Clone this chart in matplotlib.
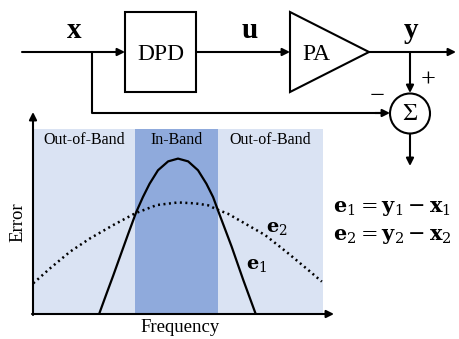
#!/usr/bin/env python3
'''
DPD block diagram with the in-band / out-of-band error sketch below it.
Saves out.png (459x339 px).
'''

import matplotlib
matplotlib.use('Agg')
from matplotlib import pyplot as plt
from matplotlib.patches import Rectangle, Polygon, Circle

plt.rcParams['font.family'] = ['Liberation Serif', 'DejaVu Serif']
plt.rcParams['mathtext.fontset'] = 'stix'

# band edges on the frequency axis (0..10)
BANDS = [0.0, 3.52, 6.38, 10.0]
BAND_LABELS = ['Out-of-Band', 'In-Band', 'Out-of-Band']
BAND_COLORS = ['#dae3f3', '#8faadc', '#dae3f3']

# e1: solid curve
E1_FREQ = [2.28, 2.54, 2.76, 3.00, 3.28, 3.56, 3.79, 4.02, 4.31, 4.66,
           5.00, 5.35, 5.69, 5.98, 6.21, 6.40, 6.85, 7.25, 7.68]
E1_ERR = [0.0, 1.12, 2.05, 3.10, 4.32, 5.51, 6.32, 7.04, 7.77, 8.25,
          8.40, 8.25, 7.77, 7.04, 6.32, 5.51, 3.64, 1.84, 0.0]

# e2: dotted curve
E2_FREQ = [0.01, 0.59, 1.28, 1.97, 2.77, 3.52, 4.27, 5.00, 5.59, 6.03,
           6.39, 6.72, 7.20, 8.00, 8.80, 9.49, 9.96]
E2_ERR = [1.66, 2.47, 3.37, 4.09, 4.81, 5.44, 5.89, 6.03, 5.98, 5.88,
          5.62, 5.42, 4.99, 4.27, 3.28, 2.38, 1.75]

LW = 1.5
ARROW = dict(arrowstyle='-|>', mutation_scale=11, lw=LW, color='black',
             shrinkA=0, shrinkB=0)


def arrow(ax, x0, y0, x1, y1):
    ax.annotate('', xy=(x1, y1), xytext=(x0, y0), arrowprops=ARROW)


def line(ax, xs, ys):
    ax.plot(xs, ys, color='black', lw=LW, solid_capstyle='butt')


fig = plt.figure(figsize=(4.59, 3.39), dpi=100)

# ---- error sketch ----
W, H = 459.0, 339.0
ax = fig.add_axes([33 / W, (H - 314) / H, 290 / W, 185 / H])
ax.set_xlim(0, 10)
ax.set_ylim(0, 10)
ax.axis('off')
for i, label in enumerate(BAND_LABELS):
    ax.add_patch(Rectangle((BANDS[i], 0), BANDS[i + 1] - BANDS[i], 10,
                           color=BAND_COLORS[i], lw=0))
    ax.text((BANDS[i] + BANDS[i + 1]) / 2, 9.4, label, ha='center',
            va='center', fontsize=11.5)
ax.plot(E1_FREQ, E1_ERR, color='black', lw=1.6)
ax.plot(E2_FREQ, E2_ERR, color='black', lw=1.8, linestyle=(0, (0.8, 1.4)))
ax.text(8.4, 4.6, r'$\mathbf{e}_2$', fontsize=14, ha='center', va='center',
        math_fontfamily='dejavuserif')
ax.text(7.7, 2.6, r'$\mathbf{e}_1$', fontsize=14, ha='center', va='center',
        math_fontfamily='dejavuserif')

# ---- block diagram (pixel coordinates) ----
d = fig.add_axes([0, 0, 1, 1])
d.set_xlim(0, W)
d.set_ylim(H, 0)
d.axis('off')
d.patch.set_alpha(0)

# chart axes arrows
arrow(d, 33, 315, 33, 112)
arrow(d, 32, 314, 334, 314)
d.text(18, 222, 'Error', rotation=90, ha='center', va='center', fontsize=13.5)
d.text(180, 328, 'Frequency', ha='center', va='center', fontsize=13.5)

# main path
arrow(d, 22, 52, 125, 52)
d.add_patch(Rectangle((125, 12), 71, 80, fill=False, lw=LW, ec='black'))
d.text(160.5, 54, 'DPD', ha='center', va='center', fontsize=17)
arrow(d, 196, 52, 290, 52)
d.add_patch(Polygon([(290, 12), (290, 92), (369, 52)], closed=True,
                    fill=False, lw=LW, ec='black'))
d.text(316, 55, 'PA', ha='center', va='center', fontsize=17)
arrow(d, 369, 52, 456, 52)

d.text(74, 30, 'x', ha='center', va='center', fontsize=21, fontweight='bold')
d.text(250, 30, 'u', ha='center', va='center', fontsize=21, fontweight='bold')
d.text(411, 30, 'y', ha='center', va='center', fontsize=21, fontweight='bold')

# feedback / summing node
line(d, [92, 92, 380], [52, 113, 113])
arrow(d, 375, 113, 390, 113)
arrow(d, 410, 52, 410, 93)
d.add_patch(Circle((410, 113.5), 20, fill=False, lw=LW, ec='black'))
d.text(410, 115, r'$\Sigma$', ha='center', va='center', fontsize=17)
arrow(d, 410, 134, 410, 166)
d.text(428, 81, '+', ha='center', va='center', fontsize=19)
d.text(377, 97, '\u2212', ha='center', va='center', fontsize=19)

# error definitions
d.text(333, 209, r'$\mathbf{e}_1 = \mathbf{y}_1 - \mathbf{x}_1$',
       ha='left', va='center', fontsize=15, math_fontfamily='dejavuserif')
d.text(333, 236, r'$\mathbf{e}_2 = \mathbf{y}_2 - \mathbf{x}_2$',
       ha='left', va='center', fontsize=15, math_fontfamily='dejavuserif')

fig.savefig('out.png', dpi=100)
